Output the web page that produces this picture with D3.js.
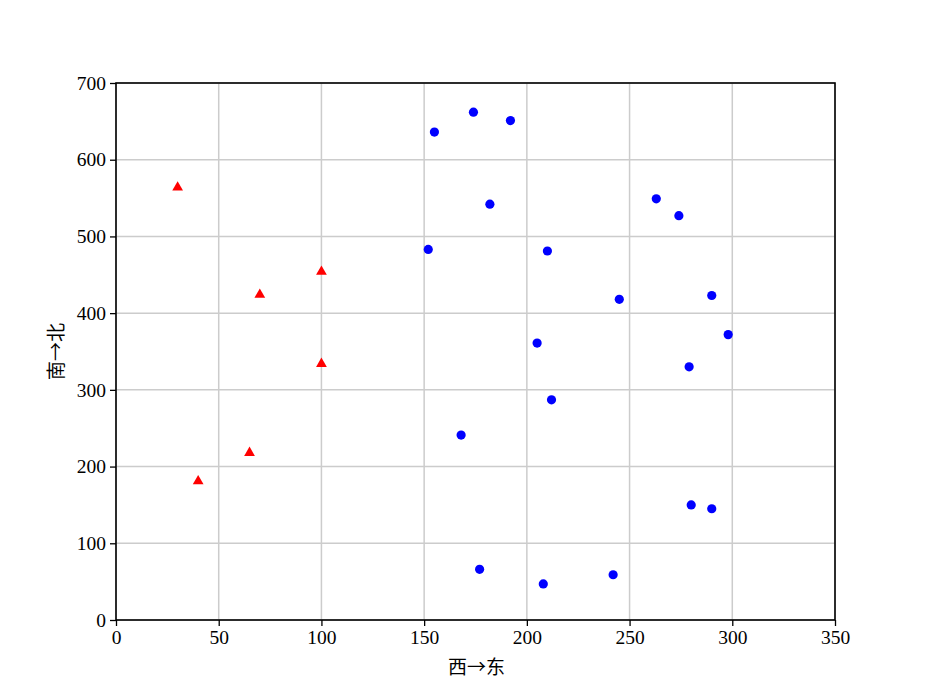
<!DOCTYPE html>
<html>
<head>
<meta charset="utf-8">
<script src="https://cdn.jsdelivr.net/npm/d3@7"></script>
<style>
  body { margin: 0; background: #fff; }
  svg text { font-family: "Liberation Serif", "Noto Sans CJK SC", serif; fill: #000; }
</style>
</head>
<body>
<svg></svg>
<script>
'use strict';
// points
var redX = [30, 70, 100, 100, 65, 40];
var redY = [565, 425, 455, 335, 219, 182];
var blueX = [155, 174, 192, 182, 152, 210, 263, 274, 245, 290, 298, 205, 279, 212, 168, 280, 290, 177, 208, 242];
var blueY = [636, 662, 651, 542, 483, 481, 549, 527, 418, 423, 372, 361, 330, 287, 241, 150, 145, 66, 47, 59];
var xTicks = [0, 50, 100, 150, 200, 250, 300, 350];
var yTicks = [0, 100, 200, 300, 400, 500, 600, 700];

var margin = { top: 83, right: 98, bottom: 77, left: 116 };
var canvasWidth = 933;
var canvasHeight = 697;
var width = canvasWidth - margin.left - margin.right;
var height = canvasHeight - margin.top - margin.bottom;

var svg = d3.select('svg')
  .attr('width', canvasWidth)
  .attr('height', canvasHeight);

var graphArea = svg.append('g')
  .attr('transform', 'translate(' + margin.left + ',' + margin.top + ')');

var xScale = d3.scaleLinear().domain([0, 350]).range([0, width]);
var yScale = d3.scaleLinear().domain([0, 700]).range([height, 0]);

// grid
graphArea.append('g').selectAll('line').data(xTicks).enter().append('line')
  .attr('x1', function(d) { return xScale(d); })
  .attr('x2', function(d) { return xScale(d); })
  .attr('y1', 0).attr('y2', height)
  .attr('stroke', '#cccccc').attr('stroke-width', 1.5);
graphArea.append('g').selectAll('line').data(yTicks).enter().append('line')
  .attr('y1', function(d) { return yScale(d); })
  .attr('y2', function(d) { return yScale(d); })
  .attr('x1', 0).attr('x2', width)
  .attr('stroke', '#cccccc').attr('stroke-width', 1.5);

// points
var blue = blueX.map(function(x, i) { return [x, blueY[i]]; });
var red = redX.map(function(x, i) { return [x, redY[i]]; });

graphArea.selectAll('circle').data(blue).enter().append('circle')
  .attr('cx', function(d) { return xScale(d[0]); })
  .attr('cy', function(d) { return yScale(d[1]); })
  .attr('r', 4.6)
  .style('fill', '#0000ff');

var tri = d3.symbol().type(d3.symbolTriangle).size(50);
graphArea.selectAll('path.tri').data(red).enter().append('path')
  .attr('class', 'tri')
  .attr('d', tri)
  .attr('transform', function(d) {
    return 'translate(' + xScale(d[0]) + ',' + (yScale(d[1]) + 0.8) + ')';
  })
  .style('fill', '#ff0000');

// frame
graphArea.append('rect')
  .attr('width', width).attr('height', height)
  .attr('fill', 'none').attr('stroke', '#000').attr('stroke-width', 1.6);

// axes
var xAxis = graphArea.append('g')
  .attr('transform', 'translate(0,' + height + ')')
  .call(d3.axisBottom(xScale).tickValues(xTicks).tickSize(6).tickPadding(4).tickFormat(d3.format('d')));
var yAxis = graphArea.append('g')
  .call(d3.axisLeft(yScale).tickValues(yTicks).tickSize(6).tickPadding(4).tickFormat(d3.format('d')));

[xAxis, yAxis].forEach(function(a) {
  a.select('.domain').remove();
  a.selectAll('line').attr('stroke', '#000').attr('stroke-width', 1.3);
  a.selectAll('text').style('font-size', '19.5px').style('font-family', '"Liberation Serif", serif');
});

svg.append('text')
  .attr('x', margin.left + width / 2 + 1)
  .attr('y', 674)
  .style('text-anchor', 'middle')
  .style('font-size', '19px')
  .style('font-family', '"Noto Sans CJK SC", sans-serif')
  .text('西→东');

svg.append('text')
  .attr('transform', 'translate(63,' + (margin.top + height / 2) + ') rotate(-90)')
  .style('text-anchor', 'middle')
  .style('font-size', '19px')
  .style('font-family', '"Noto Sans CJK SC", sans-serif')
  .text('南→北');
</script>
</body>
</html>
